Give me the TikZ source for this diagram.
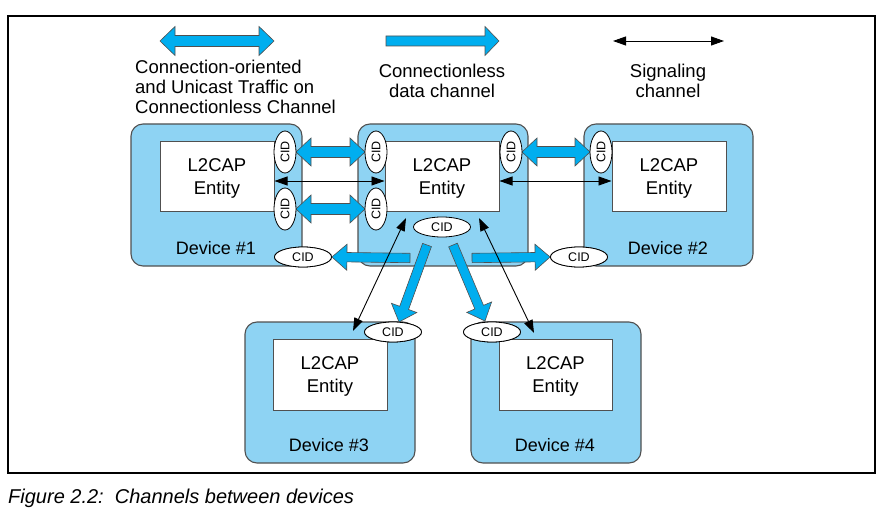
\documentclass[tikz,border=0pt]{standalone}
\usepackage{fontspec}
\setmainfont{Liberation Sans}
\usepackage{graphicx}
\usetikzlibrary{shapes.geometric,calc,arrows.meta}
\definecolor{devblue}{RGB}{142,211,243}
\definecolor{arrblue}{RGB}{0,174,239}
\definecolor{edgegray}{RGB}{80,80,80}

% single block arrow: tail, tip, shaft half width, head half width, head length
\newcommand\myblk[5]{%
  \coordinate (bh) at ($(#2)!#5!(#1)$);
  \draw[blkstyle] ($(#1)!#3!90:(#2)$) -- ($(bh)!#3!-90:(#1)$) -- ($(bh)!#4!-90:(#1)$) -- (#2)
     -- ($(bh)!#4!90:(#1)$) -- ($(bh)!#3!90:(#1)$) -- ($(#1)!#3!-90:(#2)$) -- cycle;}
% double block arrow: end a, end b, shaft half width, head half width, head length
\newcommand\mydbl[5]{%
  \coordinate (dha) at ($(#1)!#5!(#2)$);
  \coordinate (dhb) at ($(#2)!#5!(#1)$);
  \draw[blkstyle] (#1) -- ($(dha)!#4!90:(#2)$) -- ($(dha)!#3!90:(#2)$) -- ($(dhb)!#3!-90:(#1)$)
     -- ($(dhb)!#4!-90:(#1)$) -- (#2) -- ($(dhb)!#4!90:(#1)$) -- ($(dhb)!#3!90:(#1)$)
     -- ($(dha)!#3!-90:(#2)$) -- ($(dha)!#4!-90:(#2)$) -- cycle;}

\begin{document}
\begin{tikzpicture}[x=1pt,y=-1pt,
  blkstyle/.style={fill=arrblue,draw=edgegray,line width=0.6pt,line join=miter},
  dev/.style={draw=edgegray,fill=devblue,line width=1.1pt,rounded corners=12pt,inner sep=0pt},
  entity/.style={draw=edgegray,fill=white,line width=1pt,inner sep=0pt,minimum width=114pt,minimum height=70pt},
  enttext/.style={align=center,inner sep=0pt,font=\fontsize{18.5}{23}\selectfont},
  devlabel/.style={font=\fontsize{18}{20}\selectfont,inner sep=0pt},
  vcid/.style={ellipse,draw=black,fill=white,line width=0.8pt,inner sep=0pt,minimum width=22pt,minimum height=42pt,
     font=\fontsize{12.5}{13}\selectfont},
  hcid/.style={ellipse,draw=black,fill=white,line width=0.8pt,inner sep=0pt,minimum width=57pt,minimum height=20pt,
     font=\fontsize{12.5}{13}\selectfont},
  sig/.style={line width=0.9pt,{Triangle[length=13pt,width=9pt]}-{Triangle[length=13pt,width=9pt]}},
  legtext/.style={font=\fontsize{18.5}{20}\selectfont,inner sep=0pt}]

\useasboundingbox (0,0) rectangle (890,529);

% frame
\draw[line width=2pt] (8,16) rectangle (875,473);

% legend
\coordinate (lg1a) at (160,41);
\coordinate (lg1b) at (274,41);
\coordinate (lg2a) at (386,41);
\coordinate (lg2b) at (499,41);
\coordinate (lg3a) at (613,41);
\coordinate (lg3b) at (724,41);
\mydbl{lg1a}{lg1b}{5.5pt}{14.5pt}{15pt}
\myblk{lg2a}{lg2b}{5pt}{14.5pt}{14pt}
\draw[sig] (lg3a) -- (lg3b);
\node[legtext,anchor=west,align=left] (lt1) at (135,87) {Connection-oriented\\and Unicast Traffic on\\Connectionless Channel};
\node[legtext,align=center] (lt2) at (442,80.5) {Connectionless\\data channel};
\node[legtext,align=center] (lt3) at (668,81) {Signaling\\channel};

% devices
\node[dev,minimum width=171pt,minimum height=142pt] (d1) at (216.5,195) {};
\node[dev,minimum width=170pt,minimum height=142pt] (d0) at (443,195) {};
\node[dev,minimum width=169pt,minimum height=142pt] (d2) at (668.5,195) {};
\node[dev,minimum width=170pt,minimum height=141pt] (d3) at (330,392.5) {};
\node[dev,minimum width=170pt,minimum height=141pt] (d4) at (556,392.5) {};

% entities
\node[entity] (e1) at (217,177) {};
\node[entity] (e0) at (442,177) {};
\node[entity] (e2) at (669,177) {};
\node[entity,minimum height=71pt] (e3) at (330,374.5) {};
\node[entity,minimum width=113pt,minimum height=71pt] (e4) at (555.5,374.5) {};
\node[enttext] at ([yshift=-1.5pt]e1.center) {L2CAP\\Entity};
\node[enttext] at ([yshift=-1.5pt]e0.center) {L2CAP\\Entity};
\node[enttext] at ([yshift=-1.5pt]e2.center) {L2CAP\\Entity};
\node[enttext] at ([yshift=-1.5pt]e3.center) {L2CAP\\Entity};
\node[enttext] at ([yshift=-1.5pt]e4.center) {L2CAP\\Entity};

% device labels
\node[devlabel] (l1) at (216,248) {Device \#1};
\node[devlabel] (l2) at (668,248) {Device \#2};
\node[devlabel] (l3) at (329,445) {Device \#3};
\node[devlabel] (l4) at (555,445) {Device \#4};

% CID ellipses (positions; drawn on top later)
\path
  (285,152) coordinate (c1t) (285,209) coordinate (c1u)
  (376,152) coordinate (c0t) (376,209) coordinate (c0u)
  (511,152) coordinate (c0r) (601,152) coordinate (c2);

% connection-oriented block arrows
\coordinate (a1) at (296,152);
\coordinate (b1) at (365,152);
\coordinate (a2) at (296,209);
\coordinate (b2) at (365,209);
\coordinate (a3) at (522,152);
\coordinate (b3) at (590,152);
\mydbl{a1}{b1}{5.5pt}{14pt}{15pt}
\mydbl{a2}{b2}{5.5pt}{14pt}{15pt}
\mydbl{a3}{b3}{5.5pt}{14pt}{15pt}

% horizontal CID ellipses
\path
  (442,227) node[hcid] (c0b) {CID}
  (303,257) node[hcid] (c1b) {CID}
  (579,257) node[hcid] (c2b) {CID}
  (393,332) node[hcid] (c3) {CID}
  (492,332) node[hcid] (c4) {CID};

% connectionless block arrows
\coordinate (t1) at (410,258);
\coordinate (t2) at (472,258);
\coordinate (t3) at (427,245);
\coordinate (t4) at (453,245);
\coordinate (tip3) at (399,322);
\coordinate (tip4) at (485,321);
\myblk{t1}{c1b.east}{4.7pt}{13pt}{15pt}
\myblk{t2}{c2b.west}{4.7pt}{13pt}{15pt}
\myblk{t3}{tip3}{4.7pt}{13.5pt}{15pt}
\myblk{t4}{tip4}{4.7pt}{13.5pt}{15pt}

% CID ellipses on top
\path
  (c1t) node[vcid] (n1t) {\rotatebox{90}{CID}}
  (c1u) node[vcid] (n1u) {\rotatebox{90}{CID}}
  (c0t) node[vcid] (n0t) {\rotatebox{90}{CID}}
  (c0u) node[vcid] (n0u) {\rotatebox{90}{CID}}
  (c0r) node[vcid] (n0r) {\rotatebox{90}{CID}}
  (c2) node[vcid] (n2) {\rotatebox{90}{CID}}
  (c1b) node[hcid] {CID}
  (c2b) node[hcid] {CID}
  (c3) node[hcid] {CID}
  (c4) node[hcid] {CID};

% signaling channels
\draw[sig] ([yshift=-4pt]e1.east) -- ([yshift=-4pt]e0.west);
\draw[sig] ([yshift=-4pt]e0.east) -- ([yshift=-4pt]e2.west);
\coordinate (s3a) at (406,218);
\coordinate (s3b) at (353,331);
\coordinate (s4a) at (479,218);
\coordinate (s4b) at (534,333);
\draw[sig] (s3a) -- (s3b);
\draw[sig] (s4a) -- (s4b);

% caption
\node[anchor=base west,inner sep=0pt,font=\fontsize{20}{22}\selectfont\itshape] (cap) at (8,503) {Figure 2.2:\ \ Channels between devices};
\end{tikzpicture}
\end{document}
